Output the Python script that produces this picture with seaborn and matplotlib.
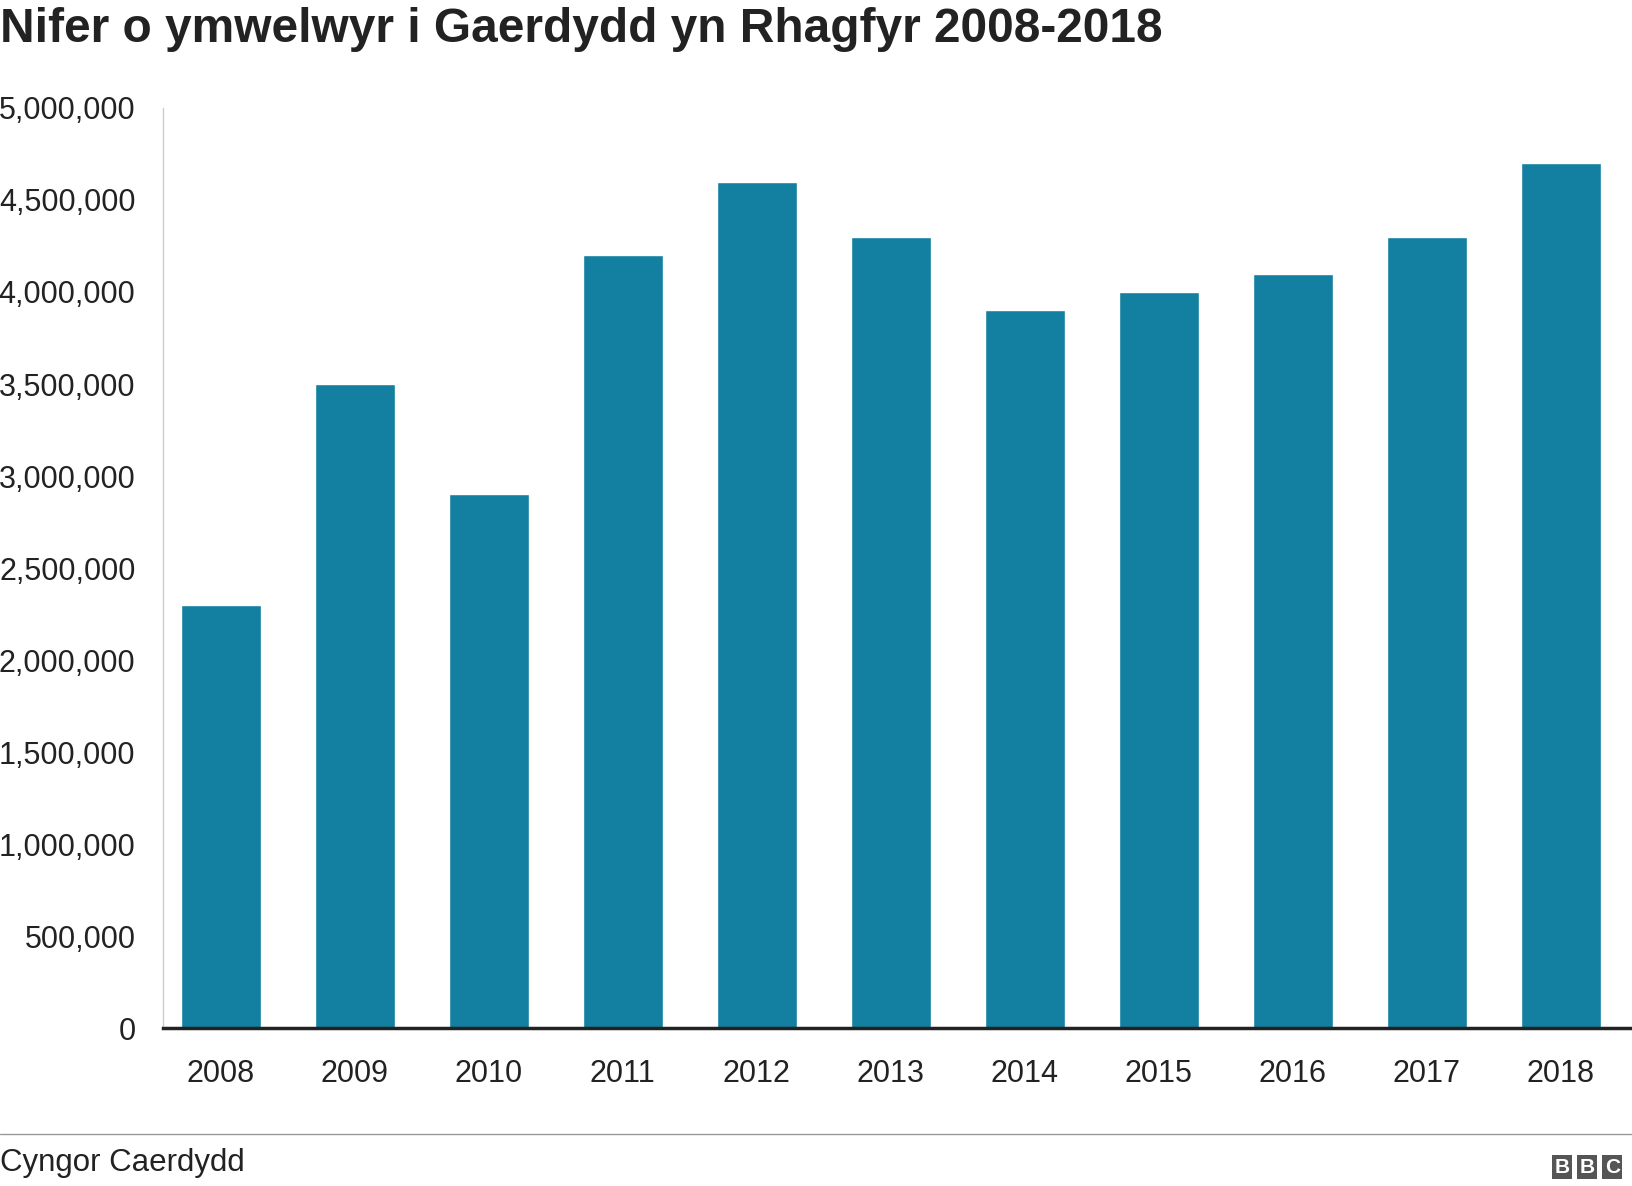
import matplotlib
matplotlib.use("Agg")
import matplotlib.pyplot as plt
import seaborn as sns
import pandas as pd
from matplotlib.ticker import FuncFormatter

# Data
years = ["2008", "2009", "2010", "2011", "2012", "2013", "2014", "2015", "2016", "2017", "2018"]
visitors = [2300000, 3500000, 2900000, 4200000, 4600000, 4300000, 3900000, 4000000, 4100000, 4300000, 4700000]

df = pd.DataFrame({"year": years, "visitors": visitors})

sns.set_style("white")
plt.rcParams["font.family"] = "Liberation Sans"

fig = plt.figure(figsize=(16.32, 11.86), dpi=100)
ax = fig.add_axes([0.100, 0.133, 0.900, 0.776])

sns.barplot(data=df, x="year", y="visitors", color="#1380A1", width=0.6,
            saturation=1, ax=ax)

ax.set_ylim(0, 5000000)
ax.set_xlim(-0.43, 10.53)
ax.set_yticks(range(0, 5000001, 500000))
ax.yaxis.set_major_formatter(FuncFormatter(lambda v, p: f"{int(v):,}"))
ax.set_xlabel("")
ax.set_ylabel("")
ax.tick_params(axis="y", labelsize=22, length=0, pad=20, colors="#222222")
ax.tick_params(axis="x", labelsize=22, length=0, pad=22, colors="#222222")

for s in ["top", "right"]:
    ax.spines[s].set_visible(False)
ax.spines["left"].set_color("#cccccc")
ax.spines["left"].set_linewidth(1)
ax.spines["bottom"].set_color("#222222")
ax.spines["bottom"].set_linewidth(2.5)

fig.text(0.0, 0.975, "Nifer o ymwelwyr i Gaerdydd yn Rhagfyr 2008-2018",
         fontsize=34.5, fontweight="bold", va="center", ha="left", color="#222222")

# Footer
fig.add_artist(plt.Line2D([0, 1], [0.044, 0.044], color="#999999", lw=1))
fig.text(0.0, 0.019, "Cyngor Caerdydd", fontsize=22.5, va="center", ha="left", color="#222222")
for i, ch in enumerate("BBC"):
    fig.text(0.957 + i * 0.0155, 0.016, ch, fontsize=15, fontweight="bold", color="white",
             ha="center", va="center",
             bbox=dict(boxstyle="square,pad=0.12", fc="#555555", ec="none"))

fig.savefig("out.png", dpi=100)
